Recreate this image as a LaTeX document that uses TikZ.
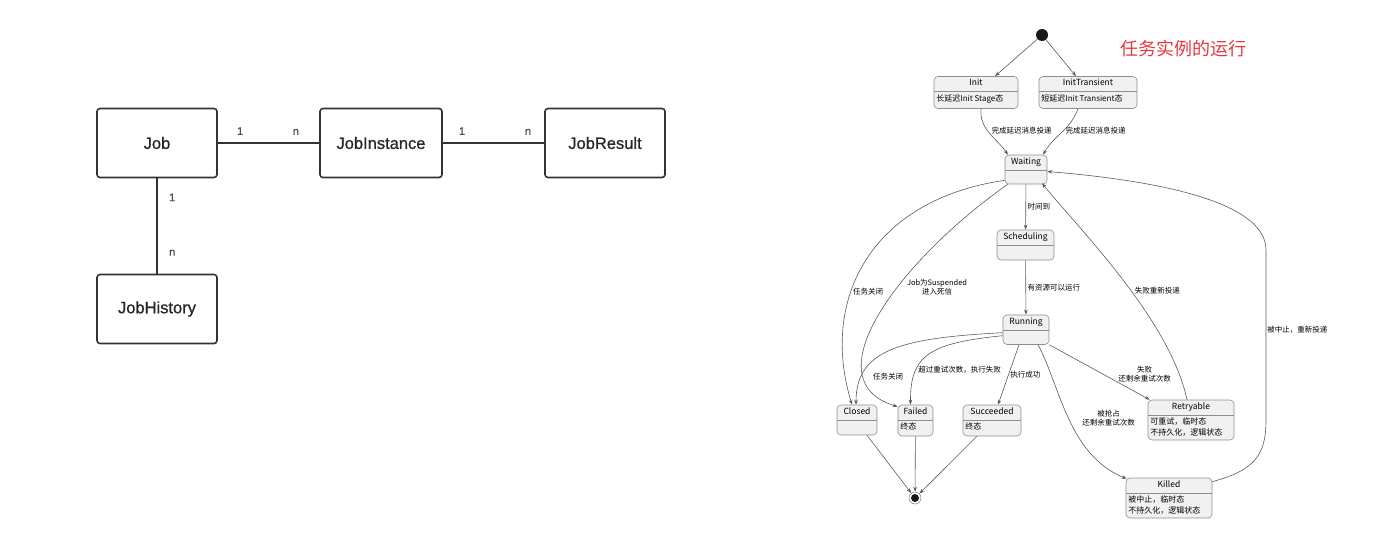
\documentclass[tikz,border=0pt]{standalone}
\usepackage{fontspec}
\setmainfont{Noto Sans CJK SC}
\newfontfamily\entfont[FakeBold=0.8]{Liberation Sans}
\usetikzlibrary{arrows.meta}
\definecolor{stfill}{HTML}{F1F1F1}
\definecolor{stline}{HTML}{8E8E8E}
\definecolor{edgec}{HTML}{5A5A5A}
\definecolor{titlered}{HTML}{E8383D}
\definecolor{entline}{HTML}{333333}
\begin{document}
\begin{tikzpicture}[x=1pt, y=-1pt, >={Stealth[length=5pt,width=3.6pt]}]
  \tikzset{
    ent/.style={draw=entline, line width=1.6pt, rounded corners=3pt, minimum width=120pt, minimum height=69pt, font=\entfont\fontsize{16.5}{19}\selectfont, text=black!85},
    rel/.style={draw=entline, line width=1.6pt},
    mult/.style={font=\entfont\fontsize{11}{13}\selectfont, text=black!70},
    st/.style={draw=stline, fill=stfill, rounded corners=4pt, line width=0.6pt, inner sep=0pt,
      path picture={\draw[stline, line width=0.5pt] ([yshift=-15pt]path picture bounding box.north west) -- ([yshift=-15pt]path picture bounding box.north east);}},
    head/.style={label={[anchor=north, inner sep=0pt, yshift=-3pt, font=\fontsize{8.5}{10}\selectfont]north:#1}},
    body/.style={label={[anchor=north west, inner sep=0pt, xshift=2.5pt, yshift=-18pt, align=left, font=\fontsize{8}{10.5}\selectfont]north west:{#1}}},
    flow/.style={->, draw=edgec, line width=0.6pt},
    elbl/.style={font=\fontsize{7.5}{9}\selectfont, inner sep=1.5pt, align=center},
    startst/.style={circle, fill=black!90, minimum size=12pt, inner sep=0pt},
    endst/.style={circle, draw=black!55, line width=0.5pt, minimum size=12pt, inner sep=0pt,
      path picture={\fill[black!90] (path picture bounding box.center) circle (4pt);}}
  }
  \useasboundingbox (0,0) rectangle (1400,546);

  % entities
  \node[ent] (job) at (157,143) {Job};
  \node[ent, minimum width=122pt] (jobinst) at (381,143) {JobInstance};
  \node[ent] (jobres) at (605,143) {JobResult};
  \node[ent] (jobhist) at (157,309) {JobHistory};
  \draw[rel] (job) -- node[mult, pos=0.22, above=4pt] {1} node[mult, pos=0.77, above=4pt] {n} (jobinst);
  \draw[rel] (jobinst) -- node[mult, pos=0.19, above=4pt] {1} node[mult, pos=0.84, above=4pt] {n} (jobres);
  \draw[rel] (job) -- node[mult, pos=0.2, right=8pt] {1} node[mult, pos=0.78, right=8pt] {n} (jobhist);

  % states
  \node[startst] (start) at (1042,35) {};
  \node[font=\fontsize{18}{20}\selectfont, text=titlered] (title) at (1183,49) {任务实例的运行};
  \node[st, minimum width=84pt, minimum height=32pt, head=Init, body={长延迟Init Stage态}] (init) at (976,92.5) {};
  \node[st, minimum width=98pt, minimum height=32pt, head=InitTransient, body={短延迟Init Transient态}] (initT) at (1088,92.5) {};
  \node[st, minimum width=42pt, minimum height=29pt, head=Waiting] (waiting) at (1026,169.5) {};
  \node[st, minimum width=57pt, minimum height=30pt, head=Scheduling] (sched) at (1025.5,245) {};
  \node[st, minimum width=46pt, minimum height=29.5pt, head=Running] (running) at (1026,329.7) {};
  \node[st, minimum width=40pt, minimum height=30pt, head=Closed] (closed) at (857,420) {};
  \node[st, minimum width=35pt, minimum height=31pt, head=Failed, body=终态] (failed) at (915.5,420.5) {};
  \node[st, minimum width=58pt, minimum height=31pt, head=Succeeded, body=终态] (succ) at (992,420.5) {};
  \node[st, minimum width=86pt, minimum height=40pt, head=Retryable, body={可重试，临时态\\不持久化，逻辑状态}] (retry) at (1191,420) {};
  \node[st, minimum width=86pt, minimum height=40pt, head=Killed, body={被中止，临时态\\不持久化，逻辑状态}] (killed) at (1169,498) {};
  \node[endst] (final) at (915,498) {};

  \draw[flow] (start) -- ([xshift=19pt]init.north);
  \draw[flow] (start) -- ([xshift=-12pt]initT.north);
  \draw[flow] ([xshift=5pt]init.south) to[out=-95,in=125] node[elbl, pos=0.45, right=2pt] {完成延迟消息投递} ([xshift=-18pt]waiting.north);
  \draw[flow] ([xshift=-10pt]initT.south) to[out=-110,in=60] node[elbl, pos=0.45, right] {完成延迟消息投递} ([xshift=17pt]waiting.north);
  \draw[flow] (waiting) -- node[elbl, right] {时间到} (sched);
  \draw[flow] (sched) -- node[elbl, right] {有资源可以运行} (running);
  \draw[flow] ([yshift=4pt]waiting.south west) .. controls (870,200) and (820,300) .. node[elbl, pos=0.62, right] {任务关闭} ([xshift=-5pt]closed.north);
  \draw[flow] ([xshift=3pt]waiting.south west) .. controls (900,260) and (810,380) .. node[elbl, pos=0.4, right=8pt] {Job为Suspended\\进入死信} ([yshift=-2pt]failed.north west);
  \draw[flow] ([yshift=-3pt]running.west) .. controls (900,338) and (856,350) .. node[elbl, pos=0.8, right=10pt] {任务关闭} ([xshift=-1pt]closed.north);
  \draw[flow] ([yshift=-6pt]running.west) .. controls (930,343) and (910,355) .. node[elbl, pos=0.7, right] {超过重试次数，执行失败} ([xshift=-5pt]failed.north);
  \draw[flow] ([xshift=-7pt]running.south) -- node[elbl, right] {执行成功} ([xshift=6pt]succ.north);
  \draw[flow] (running.south east) -- node[elbl, pos=0.95, above=13pt] {失败\\还剩余重试次数} ([xshift=2pt]retry.north west);
  \draw[flow] ([xshift=12pt]running.south) .. controls (1060,385) and (1068,455) .. node[elbl, pos=0.5, right=12pt] {被抢占\\还剩余重试次数} ([xshift=1pt,yshift=-1pt]killed.north west);
  \draw[flow] ([xshift=-4pt]retry.north) .. controls (1170,320) and (1080,230) .. node[elbl, pos=0.45, right=2pt] {失败重新投递} ([xshift=16pt,yshift=1pt]waiting.south);
  \draw[flow] ([yshift=-4pt]killed.north east) .. controls (1255,470) and (1266,455) .. (1266,420) -- node[elbl, pos=0.53, right, inner sep=1pt] {被中止，重新投递} (1266,250) .. controls (1266,200) and (1150,180) .. ([yshift=-2pt]waiting.east);
  \draw[flow] ([xshift=10pt]closed.south) -- (final);
  \draw[flow] (failed) -- (final);
  \draw[flow] ([xshift=-15pt]succ.south) -- (final);
\end{tikzpicture}
\end{document}
